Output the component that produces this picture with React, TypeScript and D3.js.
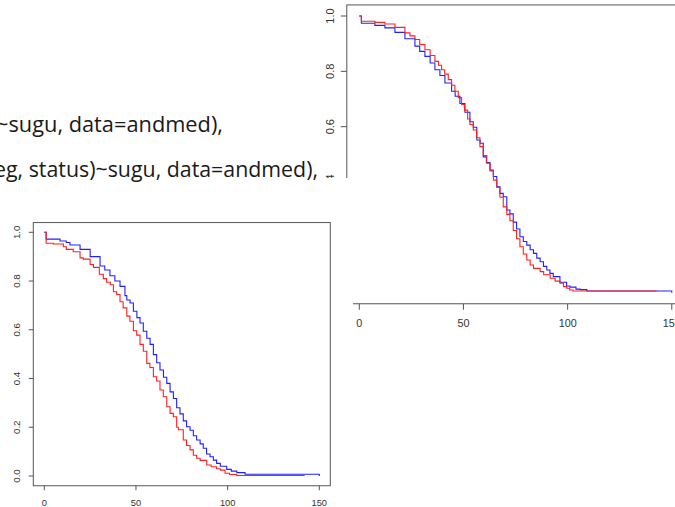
import React from "react";
import * as d3 from "d3";

// ---- data ----
// Right (upper) plot: Kaplan-Meier curves
const rightBlueT = [0, 1, 7.5, 12.3, 17.1, 21.9, 26.7, 29, 31.5, 34, 36.3, 38.7, 41.1, 44.3, 46, 48.3, 50.7, 53.1, 54.7, 56.4, 58, 59.5, 61, 62.7, 64.3, 66, 67.5, 69.1, 70.8, 72.3, 73.9, 75.5, 77.1, 78.7, 80.4, 82, 83.6, 85.2, 86.8, 88.4, 90, 91.5, 93.1, 96.3, 99.5, 101.1, 104, 106, 109.2, 150];
const rightBlueS = [1, 0.974, 0.966, 0.957, 0.941, 0.918, 0.891, 0.872, 0.854, 0.83, 0.806, 0.785, 0.758, 0.728, 0.71, 0.684, 0.652, 0.618, 0.598, 0.552, 0.54, 0.491, 0.47, 0.443, 0.42, 0.383, 0.359, 0.347, 0.299, 0.285, 0.255, 0.23, 0.202, 0.185, 0.172, 0.155, 0.142, 0.125, 0.112, 0.095, 0.082, 0.07, 0.058, 0.038, 0.024, 0.02, 0.013, 0.011, 0.006, 0.0];
const rightRedT = [0, 1, 7.5, 12.3, 17.1, 21.9, 24.3, 26.7, 29, 31.5, 34, 36.3, 38, 39.5, 41, 42.7, 44.3, 45.9, 47.5, 49.1, 50.5, 52, 53.1, 54.7, 56.3, 57.9, 59.5, 61.2, 62.8, 64.4, 66, 67.5, 69.1, 70.8, 72.3, 73.9, 75.5, 77.1, 78.7, 80.4, 82, 83.6, 86.8, 88.5, 91.6, 94, 96.3, 98, 99.6, 101, 102.7, 142.7];
const rightRedS = [1, 0.981, 0.977, 0.971, 0.959, 0.939, 0.928, 0.915, 0.897, 0.878, 0.857, 0.836, 0.822, 0.806, 0.79, 0.77, 0.75, 0.728, 0.705, 0.68, 0.66, 0.628, 0.608, 0.588, 0.56, 0.528, 0.496, 0.468, 0.44, 0.407, 0.38, 0.345, 0.31, 0.283, 0.26, 0.225, 0.195, 0.166, 0.14, 0.118, 0.1, 0.088, 0.076, 0.065, 0.052, 0.042, 0.034, 0.022, 0.016, 0.01, 0.006, 0.006];

// Left (lower) plot
const leftBlueT = [0, 1, 8.6, 12, 14, 19.5, 25, 30.4, 33, 35.8, 38.5, 41.3, 44, 45, 46.8, 48.6, 50.5, 52.2, 54, 55.9, 57.7, 59.5, 61.3, 63.1, 65, 66.8, 68.6, 70.4, 72.2, 74, 75.8, 77.6, 79.5, 81.3, 83.1, 85, 86.7, 88.5, 90.4, 92.2, 94, 96, 99.5, 102, 105, 109.5, 150];
const leftBlueS = [1, 0.972, 0.964, 0.958, 0.948, 0.93, 0.9, 0.862, 0.845, 0.822, 0.8, 0.778, 0.74, 0.722, 0.71, 0.676, 0.65, 0.628, 0.594, 0.565, 0.54, 0.498, 0.465, 0.435, 0.405, 0.38, 0.345, 0.318, 0.28, 0.255, 0.226, 0.202, 0.188, 0.165, 0.148, 0.132, 0.114, 0.09, 0.079, 0.065, 0.052, 0.04, 0.027, 0.02, 0.014, 0.007, 0.0];
const leftRedT = [0, 1, 4.9, 10.4, 12, 15.8, 19.5, 21.3, 25, 26.8, 30, 32.2, 34, 36, 37.7, 39.5, 41.3, 43, 45, 46.7, 48.6, 50.4, 52.2, 54, 55.9, 57.6, 59.5, 61.3, 63.1, 64.9, 66.8, 68.6, 70.4, 72.2, 73.1, 75.8, 77.6, 79.5, 81.3, 83.1, 85, 88.6, 91, 94, 96, 98.6, 101, 105, 142];
const leftRedS = [1, 0.955, 0.952, 0.941, 0.93, 0.92, 0.895, 0.89, 0.868, 0.856, 0.828, 0.81, 0.795, 0.785, 0.756, 0.745, 0.715, 0.69, 0.656, 0.635, 0.596, 0.578, 0.54, 0.512, 0.462, 0.445, 0.407, 0.39, 0.353, 0.325, 0.284, 0.257, 0.243, 0.2, 0.19, 0.148, 0.125, 0.107, 0.085, 0.073, 0.064, 0.045, 0.038, 0.03, 0.024, 0.011, 0.006, 0.002, 0.002];

const xTicks = [0, 50, 100, 150];
const yTicks = [0, 0.2, 0.4, 0.6, 0.8, 1.0];
const textLines = ["~sugu, data=andmed),", "eg, status)~sugu, data=andmed),"];

type PlotProps = {
  x0: number; x150: number; y0: number; y1: number;
  fontX: number; fontY: number; tickLen: number; xLabelY: number; yLabelX: number;
  blueT: number[]; blueS: number[]; redT: number[]; redS: number[];
};

function Plot(p: PlotProps) {
  const x = d3.scaleLinear().domain([0, 150]).range([p.x0, p.x150]);
  const y = d3.scaleLinear().domain([0, 1]).range([p.y0, p.y1]);
  const line = d3
    .line<[number, number]>()
    .x((d) => x(d[0]))
    .y((d) => y(d[1]))
    .curve(d3.curveStepAfter);
  const blue = line(p.blueT.map((t, i) => [t, p.blueS[i]] as [number, number])) || "";
  const red = line(p.redT.map((t, i) => [t, p.redS[i]] as [number, number])) || "";
  const bx0 = x(-6), bx1 = x(156), by0 = y(1.04), by1 = y(-0.04);
  const axisCol = "#555";
  const ff = "Liberation Sans, Arial, sans-serif";
  return (
    <g>
      <rect x={bx0} y={by0} width={bx1 - bx0} height={by1 - by0} fill="none" stroke={axisCol} strokeWidth={1} />
      {xTicks.map((t) => (
        <g key={"x" + t}>
          <line x1={x(t)} x2={x(t)} y1={by1} y2={by1 + p.tickLen} stroke={axisCol} />
          <text x={x(t)} y={p.xLabelY} fontSize={p.fontX} textAnchor="middle" fill="#333" fontFamily={ff}>{t}</text>
        </g>
      ))}
      {yTicks.map((t) => (
        <g key={"y" + t}>
          <line x1={bx0} x2={bx0 - p.tickLen} y1={y(t)} y2={y(t)} stroke={axisCol} />
          <text transform={`translate(${p.yLabelX},${y(t)}) rotate(-90)`} fontSize={p.fontY} textAnchor="middle" fill="#333" fontFamily={ff}>{t.toFixed(1)}</text>
        </g>
      ))}
      <path d={blue} fill="none" stroke="#2020ff" strokeWidth={1.1} />
      <path d={red} fill="none" stroke="#ff2020" strokeWidth={1.1} />
    </g>
  );
}

export default function App() {
  return (
    <svg width={675} height={507} style={{ position: "absolute", left: 0, top: 0, background: "#fff" }}>
      <rect x={0} y={0} width={675} height={507} fill="#fff" />
      <Plot x0={359.3} x150={671.8} y0={292.7} y1={16} fontX={10.8} fontY={11} tickLen={6} xLabelY={327.2} yLabelX={333.5}
        blueT={rightBlueT} blueS={rightBlueS} redT={rightRedT} redS={rightRedS} />
      <rect x={0} y={178} width={353} height={329} fill="#fff" />
      <text x={-4} y={131.7} fontSize={21} fontFamily="Open Sans, sans-serif" fill="#1a1a1a" textLength={227} lengthAdjust="spacingAndGlyphs">{textLines[0]}</text>
      <text x={-6} y={177} fontSize={21} fontFamily="Open Sans, sans-serif" fill="#1a1a1a" textLength={324} lengthAdjust="spacingAndGlyphs">{textLines[1]}</text>
      <Plot x0={44.3} x150={319.3} y0={476} y1={232.3} fontX={9.3} fontY={9.8} tickLen={4.5} xLabelY={505.8} yLabelX={20.3}
        blueT={leftBlueT} blueS={leftBlueS} redT={leftRedT} redS={leftRedS} />
    </svg>
  );
}
